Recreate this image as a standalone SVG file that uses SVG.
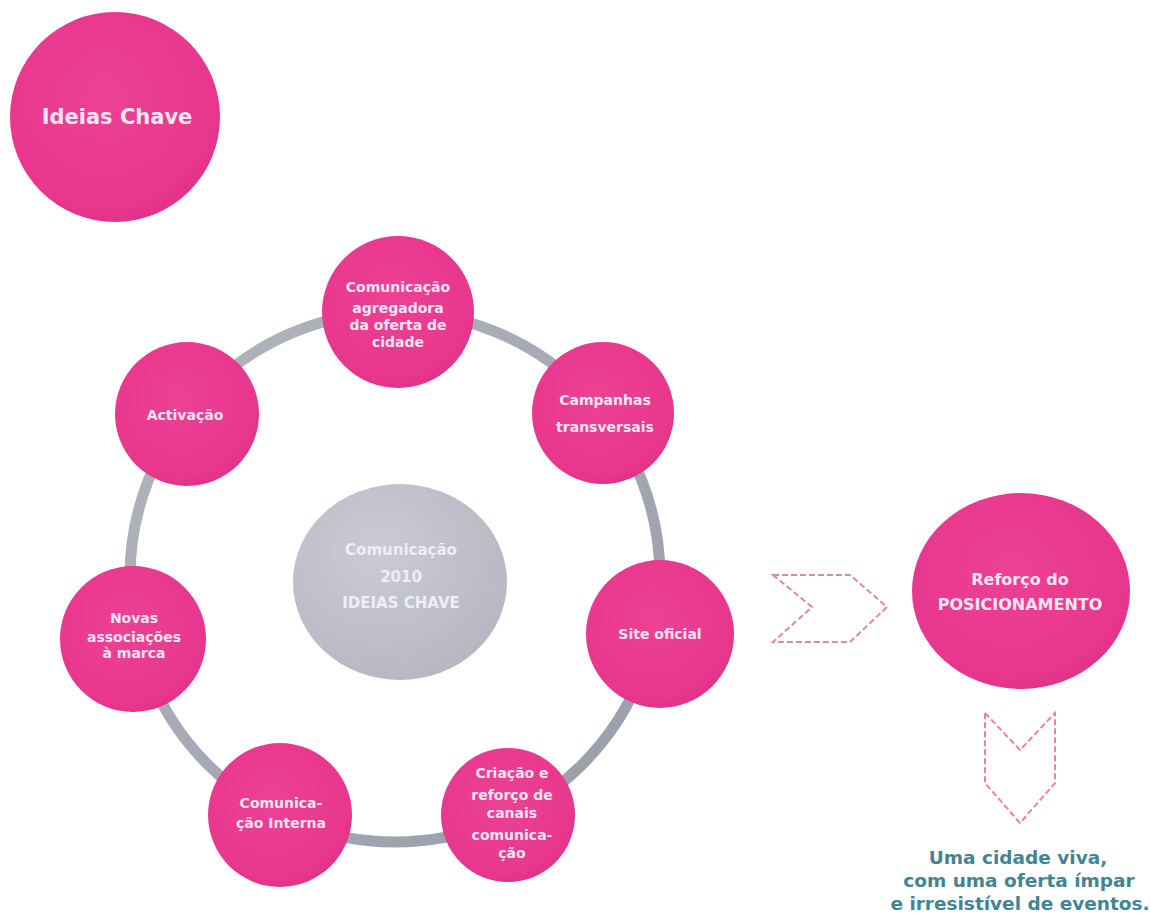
<svg xmlns="http://www.w3.org/2000/svg" width="1150" height="918" viewBox="0 0 1150 918">
  <defs>
    <radialGradient id="pinkFill" cx="45%" cy="40%" r="65%">
      <stop offset="0%" stop-color="#ec4194"/>
      <stop offset="80%" stop-color="#e8378d"/>
      <stop offset="100%" stop-color="#e02f87"/>
    </radialGradient>
    <radialGradient id="greyFill" cx="40%" cy="35%" r="70%">
      <stop offset="0%" stop-color="#cbcbd5"/>
      <stop offset="100%" stop-color="#b6b7c3"/>
    </radialGradient>
    <linearGradient id="ringStroke" x1="0" y1="0" x2="1" y2="1">
      <stop offset="0%" stop-color="#b2b4be"/>
      <stop offset="100%" stop-color="#9a9ca8"/>
    </linearGradient>
  </defs>
  <style>
    .pink { fill: url(#pinkFill); }
    .grey { fill: url(#greyFill); }
    .lbl { font-family: "DejaVu Sans", "Liberation Sans", sans-serif; font-weight: bold; font-size: 14px; fill: #fde6f2; text-anchor: middle; }
    .big { font-size: 21px; }
    .mid { font-size: 16px; }
    .core { font-size: 15px; fill: #eeeef4; }
    .ring { fill: none; stroke: url(#ringStroke); stroke-width: 11; }
    .chev { fill: none; stroke-width: 2; stroke-dasharray: 6 3; stroke-linejoin: miter; }
    .motto { font-family: "DejaVu Sans", "Liberation Sans", sans-serif; font-weight: bold; font-size: 18.5px; fill: #3f8593; text-anchor: middle; }
  </style>

  <rect width="1150" height="918" fill="#ffffff"/>

  <!-- connectors: the ring joining the seven ideas, and the dashed chevrons -->
  <g id="connectors">
    <circle class="ring" cx="395" cy="577" r="265"/>
    <polygon class="chev" stroke="#d98aa9" points="773,575 850,575 887,607 850,642 773,642 812,607"/>
    <polygon class="chev" stroke="#e882ad" points="985,713 1020,750 1055,713 1055,783 1020,823 985,783"/>
  </g>

  <g id="title">
    <circle class="pink" cx="115" cy="117" r="105"/>
    <text class="lbl big" x="117" y="124">Ideias Chave</text>
  </g>

  <g id="core">
    <ellipse class="grey" cx="400" cy="582" rx="107" ry="98"/>
    <text class="lbl core" x="401" y="555">Comunicação</text>
    <text class="lbl core" x="401" y="582">2010</text>
    <text class="lbl core" x="401" y="608">IDEIAS CHAVE</text>
  </g>

  <g id="agregadora">
    <circle class="pink" cx="398" cy="312" r="76"/>
    <text class="lbl" x="398" y="292">Comunicação</text>
    <text class="lbl" x="398" y="313">agregadora</text>
    <text class="lbl" x="398" y="330">da oferta de</text>
    <text class="lbl" x="398" y="347">cidade</text>
  </g>

  <g id="campanhas">
    <circle class="pink" cx="603" cy="413" r="71"/>
    <text class="lbl" x="605" y="405">Campanhas</text>
    <text class="lbl" x="605" y="432">transversais</text>
  </g>

  <g id="site">
    <circle class="pink" cx="660" cy="634" r="74"/>
    <text class="lbl" x="660" y="639">Site oficial</text>
  </g>

  <g id="canais">
    <circle class="pink" cx="508" cy="815" r="67"/>
    <text class="lbl" x="512" y="778">Criação e</text>
    <text class="lbl" x="512" y="800">reforço de</text>
    <text class="lbl" x="512" y="818">canais</text>
    <text class="lbl" x="512" y="840">comunica-</text>
    <text class="lbl" x="512" y="858">ção</text>
  </g>

  <g id="interna">
    <circle class="pink" cx="280" cy="815" r="72"/>
    <text class="lbl" x="281" y="808">Comunica-</text>
    <text class="lbl" x="281" y="828">ção Interna</text>
  </g>

  <g id="associacoes">
    <circle class="pink" cx="133" cy="639" r="73"/>
    <text class="lbl" x="134" y="623">Novas</text>
    <text class="lbl" x="134" y="642">associações</text>
    <text class="lbl" x="134" y="658">à marca</text>
  </g>

  <g id="activacao">
    <circle class="pink" cx="187" cy="414" r="72"/>
    <text class="lbl" x="185" y="420">Activação</text>
  </g>

  <g id="posicionamento">
    <ellipse class="pink" cx="1021" cy="591" rx="109" ry="98"/>
    <text class="lbl mid" x="1020" y="585">Reforço do</text>
    <text class="lbl mid" x="1020" y="610">POSICIONAMENTO</text>
  </g>

  <g id="motto">
    <text class="motto" x="1018" y="864">Uma cidade viva,</text>
    <text class="motto" x="1019" y="887">com uma oferta ímpar</text>
    <text class="motto" x="1020" y="910">e irresistível de eventos.</text>
  </g>
</svg>
